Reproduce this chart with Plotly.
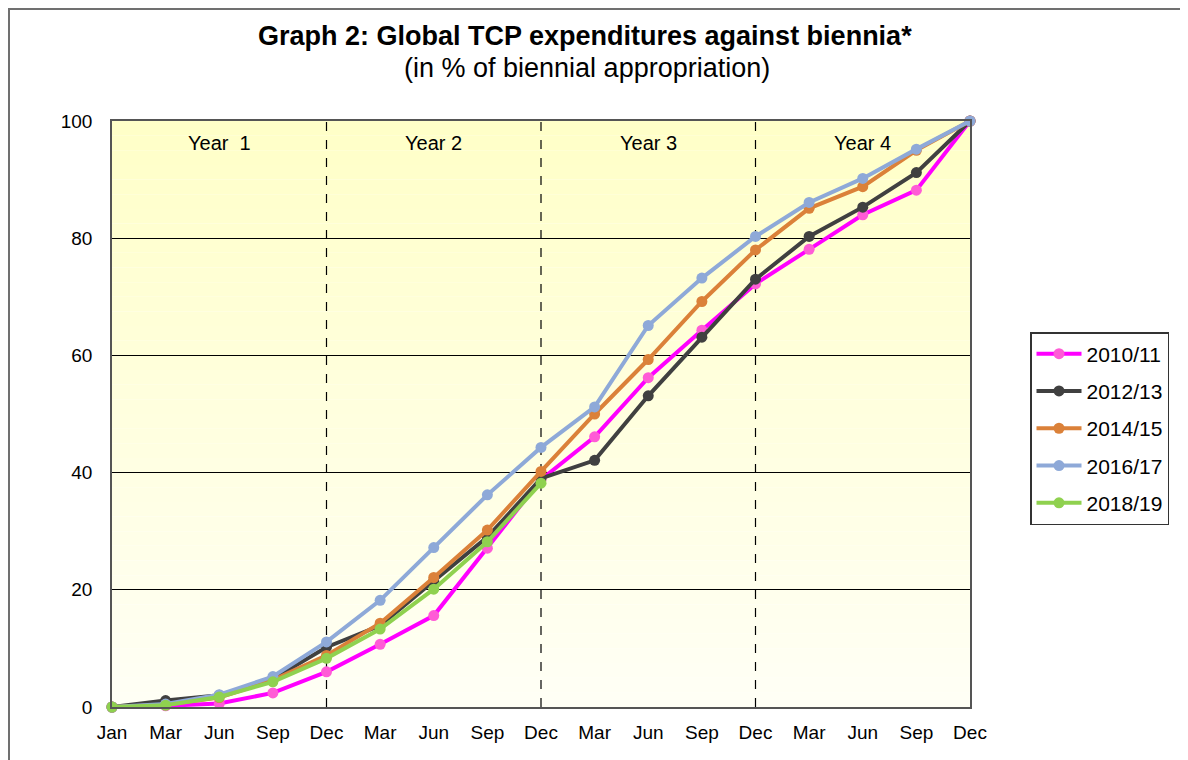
import plotly.graph_objects as go

months = ["Jan", "Mar", "Jun", "Sep", "Dec", "Mar", "Jun", "Sep", "Dec",
          "Mar", "Jun", "Sep", "Dec", "Mar", "Jun", "Sep", "Dec"]
x_idx = list(range(len(months)))

s_2010 = [0, 0.2, 0.6, 2.4, 6.0, 10.7, 15.6, 27.1, 38.8, 46.1, 56.2, 64.3, 72.2, 78.1, 84.0, 88.2, 100]
s_2012 = [0, 1.1, 2.0, 4.8, 10.2, 13.9, 21.5, 29.0, 39.0, 42.1, 53.1, 63.1, 73.0, 80.3, 85.3, 91.2, 100]
s_2014 = [0, 0.4, 1.6, 4.6, 8.8, 14.3, 22.1, 30.2, 40.2, 50.0, 59.3, 69.2, 78.0, 85.1, 88.8, 95.0, 100]
s_2016 = [0, 0.5, 2.1, 5.2, 11.1, 18.2, 27.2, 36.2, 44.3, 51.2, 65.1, 73.2, 80.3, 86.1, 90.2, 95.2, 100]
s_2018 = [0, 0.3, 1.7, 4.3, 8.3, 13.3, 20.1, 28.2, 38.2]

series_names = ["2010/11", "2012/13", "2014/15", "2016/17", "2018/19"]
series_vals = [s_2010, s_2012, s_2014, s_2016, s_2018]
line_colors = ["#FF00FF", "#404040", "#DB8139", "#8EA9D8", "#8FD14F"]
marker_colors = ["#FF5CD6", "#404040", "#DB8139", "#8EA9D8", "#8FD14F"]

year_labels = ["Year  1", "Year 2", "Year 3", "Year 4"]
year_pos = [2, 6, 10, 14]
year_sep = [4, 8, 12]

# figure geometry (page has an 8px body offset)
W, H = 1180, 752
L, R, T, B = 104, 218, 113, 53
PW, PH = W - L - R, H - T - B

fig = go.Figure()
for i, (name, vals) in enumerate(zip(series_names, series_vals)):
    fig.add_trace(go.Scatter(
        x=x_idx[:len(vals)], y=vals, name=name, mode="lines+markers",
        line=dict(color=line_colors[i], width=4),
        marker=dict(color=marker_colors[i], size=11),
        cliponaxis=False, legendgroup=name,
    ))

shapes = []
n = 40
top = (255, 255, 200)
bot = (255, 255, 245)
for k in range(n):
    t = k / (n - 1)
    c = tuple(round(top[j] + (bot[j] - top[j]) * t) for j in range(3))
    shapes.append(dict(type="rect", xref="paper", yref="paper",
                       x0=0, x1=1, y0=1 - (k + 1) / n, y1=1 - k / n,
                       fillcolor="rgb(%d,%d,%d)" % c, line=dict(width=0),
                       layer="below"))
for xs in year_sep:
    shapes.append(dict(type="line", xref="x", yref="paper", x0=xs, x1=xs,
                       y0=0, y1=1, line=dict(color="black", width=1.2, dash="dash"),
                       layer="below"))
shapes.append(dict(type="rect", xref="paper", yref="paper",
                   x0=(1 - L) / PW, x1=(W - 1 - L) / PW,
                   y0=-(B + 20) / PH, y1=1 + (T - 1) / PH,
                   line=dict(color="#707070", width=2), fillcolor="rgba(0,0,0,0)",
                   layer="above"))

def px_x(page_x):
    return (page_x - 8 - L) / PW

def px_y(page_y):
    return 1 - (page_y - 8 - T) / PH

annotations = [
    dict(text="<b>Graph 2: Global TCP expenditures against biennia*</b>",
         xref="paper", yref="paper", x=px_x(585), y=px_y(36),
         showarrow=False, font=dict(size=27, color="black"), xanchor="center", yanchor="middle"),
    dict(text="(in % of biennial appropriation)",
         xref="paper", yref="paper", x=px_x(587), y=px_y(68),
         showarrow=False, font=dict(size=27, color="black"), xanchor="center", yanchor="middle"),
]
for lbl, xp in zip(year_labels, year_pos):
    annotations.append(dict(text=lbl, x=xp, y=96.3, xref="x", yref="y", showarrow=False,
                            font=dict(size=20, color="black")))

fig.update_layout(
    width=W, height=H,
    margin=dict(l=L, r=R, t=T, b=B),
    paper_bgcolor="white", plot_bgcolor="rgba(0,0,0,0)",
    font=dict(family="Liberation Sans, Arial", color="black"),
    shapes=shapes, annotations=annotations,
    showlegend=True,
    legend=dict(x=px_x(1030), y=px_y(332), xanchor="left", yanchor="top",
                bordercolor="#333333", borderwidth=1.5, bgcolor="white",
                font=dict(size=21), traceorder="grouped", tracegroupgap=7,
                itemwidth=45),
)
fig.update_xaxes(range=[0, 16], tickmode="array", tickvals=x_idx, ticktext=months,
                 showgrid=False, zeroline=False, showline=True, linecolor="#555555",
                 linewidth=1.5, mirror=True, ticks="", tickfont=dict(size=19),
                 ticklabelstandoff=7)
fig.update_yaxes(range=[0, 100], tickvals=[0, 20, 40, 60, 80, 100],
                 showgrid=True, gridcolor="black", gridwidth=1, zeroline=False,
                 showline=True, linecolor="#555555", linewidth=1.5, mirror=True,
                 ticks="", tickfont=dict(size=19), ticklabelstandoff=14)

fig.write_html("out.html")
